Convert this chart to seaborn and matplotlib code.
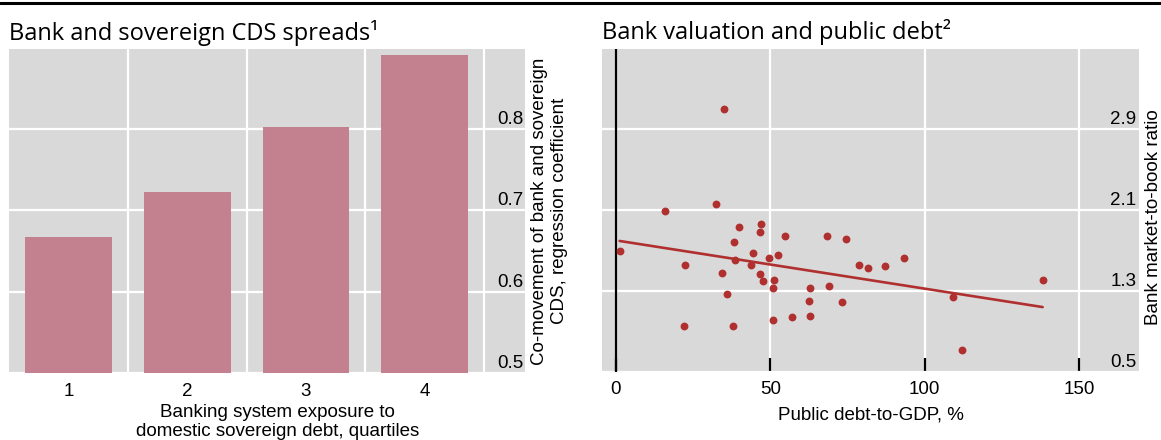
import matplotlib
matplotlib.use("Agg")
import matplotlib.pyplot as plt
from matplotlib.lines import Line2D
import seaborn as sns
import pandas as pd

# ---------------- data ----------------
quartiles = ["1", "2", "3", "4"]
comovement = [0.667, 0.722, 0.802, 0.890]
left_yticks = [0.5, 0.6, 0.7, 0.8]

debt_gdp = [1.2, 15.8, 32.5, 22.5, 22.2, 34.4, 36.1, 38.0, 38.1, 38.5,
            39.7, 44.3, 43.8, 46.5, 47.6, 47.0, 46.8, 49.6, 50.8, 51.1,
            52.4, 54.6, 50.8, 57.1, 62.7, 62.6, 62.8, 68.2, 68.9, 73.2,
            74.4, 78.8, 81.5, 87.0, 93.3, 109.3, 112.2, 138.2, 35.0]
market_to_book = [1.70, 2.09, 2.16, 1.56, 0.95, 1.48, 1.27, 0.95, 1.78, 1.61,
                  1.93, 1.68, 1.56, 1.47, 1.40, 1.96, 1.88, 1.63, 1.33, 1.41,
                  1.66, 1.84, 1.01, 1.04, 1.05, 1.20, 1.33, 1.84, 1.35, 1.19,
                  1.81, 1.56, 1.53, 1.55, 1.63, 1.24, 0.72, 1.41, 3.10]
right_xticks = [0, 50, 100, 150]
right_yticks = [0.5, 1.3, 2.1, 2.9]

left_title = "Bank and sovereign CDS spreads\u00b9"
right_title = "Bank valuation and public debt\u00b2"
left_ylabel = "Co-movement of bank and sovereign\nCDS, regression coefficient"
left_xlabel = "Banking system exposure to\ndomestic sovereign debt, quartiles"
right_ylabel = "Bank market-to-book ratio"
right_xlabel = "Public debt-to-GDP, %"

# ---------------- style ----------------
BG = "#d9d9d9"
BAR = "#c3808f"
RED = "#b0302f"
sns.set_style("darkgrid", {"axes.facecolor": BG, "grid.color": "white"})
plt.rcParams["font.family"] = ["Liberation Sans", "DejaVu Sans"]
plt.rcParams["font.size"] = 13.5
plt.rcParams["text.color"] = "black"
plt.rcParams["axes.labelcolor"] = "black"
plt.rcParams["xtick.color"] = "black"
plt.rcParams["ytick.color"] = "black"
TITLE_FONT = ["Open Sans", "DejaVu Sans"]

fig = plt.figure(figsize=(11.61, 4.40), dpi=100)
ax1 = fig.add_axes([0.00792, 0.1523, 0.4447, 0.7352])
ax2 = fig.add_axes([0.5183, 0.1545, 0.4630, 0.7341])

for ax in (ax1, ax2):
    ax.set_facecolor(BG)
    for s in ax.spines.values():
        s.set_visible(False)
    ax.set_axisbelow(True)

# ---------------- left: bars ----------------
df1 = pd.DataFrame({"quartile": quartiles, "coef": comovement})
sns.barplot(data=df1, x="quartile", y="coef", ax=ax1, color=BAR,
            saturation=1, width=0.73, linewidth=0)
ax1.set_xlim(-0.5, 3.85)
ax1.set_ylim(0.5, 0.897)
ax1.set_yticks(left_yticks)
ax1.set_xticks([0.5, 1.5, 2.5, 3.5], minor=True)
ax1.grid(False)
ax1.grid(which="major", axis="y", color="white", lw=1.6)
ax1.grid(which="minor", axis="x", color="white", lw=1.6)
ax1.tick_params(which="both", length=0)
ax1.tick_params(axis="x", pad=7, labelsize=13.5)
ax1.tick_params(axis="y", left=False, labelleft=False, right=False, labelright=False)
for v in left_yticks:
    ax1.annotate(f"{v:.1f}", xy=(1, v), xycoords=ax1.get_yaxis_transform(),
                 xytext=(-1.5, 3.3), textcoords="offset points",
                 ha="right", va="baseline", fontsize=13.5)
ax1.yaxis.set_label_position("right")
ax1.set_ylabel(left_ylabel, labelpad=4, fontsize=13.5)
ax1.set_xlabel(left_xlabel, labelpad=3, fontsize=13.5)
ax1.xaxis.label.set_x(0.52)
ax1.set_title(left_title, loc="left", family=TITLE_FONT, fontsize=17, pad=7)

# ---------------- right: scatter + fit ----------------
df2 = pd.DataFrame({"debt": debt_gdp, "mtb": market_to_book})
ax2.axvline(0, color="black", lw=1.6, zorder=1)
sns.regplot(data=df2, x="debt", y="mtb", ax=ax2, ci=None, color=RED,
            scatter_kws={"s": 32, "linewidths": 0, "alpha": 1, "zorder": 3},
            line_kws={"lw": 1.9, "zorder": 2})
ax2.set_xlim(-4.6, 169.5)
ax2.set_ylim(0.5, 3.69)
ax2.set_xticks(right_xticks)
ax2.set_xticklabels([str(t) for t in right_xticks])
ax2.set_yticks(right_yticks)
ax2.grid(False)
ax2.grid(which="major", axis="both", color="white", lw=1.6)
ax2.tick_params(axis="x", direction="in", length=10, width=1.6, color="black",
                pad=6.5, labelsize=13.5, bottom=True)
ax2.tick_params(axis="y", left=False, labelleft=False, right=False, labelright=False)
for v in right_yticks:
    ax2.annotate(f"{v:.1f}", xy=(1, v), xycoords=ax2.get_yaxis_transform(),
                 xytext=(-2, 3.3), textcoords="offset points",
                 ha="right", va="baseline", fontsize=13.5)
ax2.yaxis.set_label_position("right")
ax2.set_ylabel(right_ylabel, labelpad=4, fontsize=13.5)
ax2.yaxis.label.set_y(0.48)
ax2.set_xlabel(right_xlabel, labelpad=6, fontsize=13.5)
ax2.set_title(right_title, loc="left", family=TITLE_FONT, fontsize=17, pad=7)

# top rule
fig.add_artist(Line2D([0, 1], [1 - 3.5 / 440] * 2, color="black", lw=2.2,
                      transform=fig.transFigure))

fig.savefig("out.png", dpi=100)
